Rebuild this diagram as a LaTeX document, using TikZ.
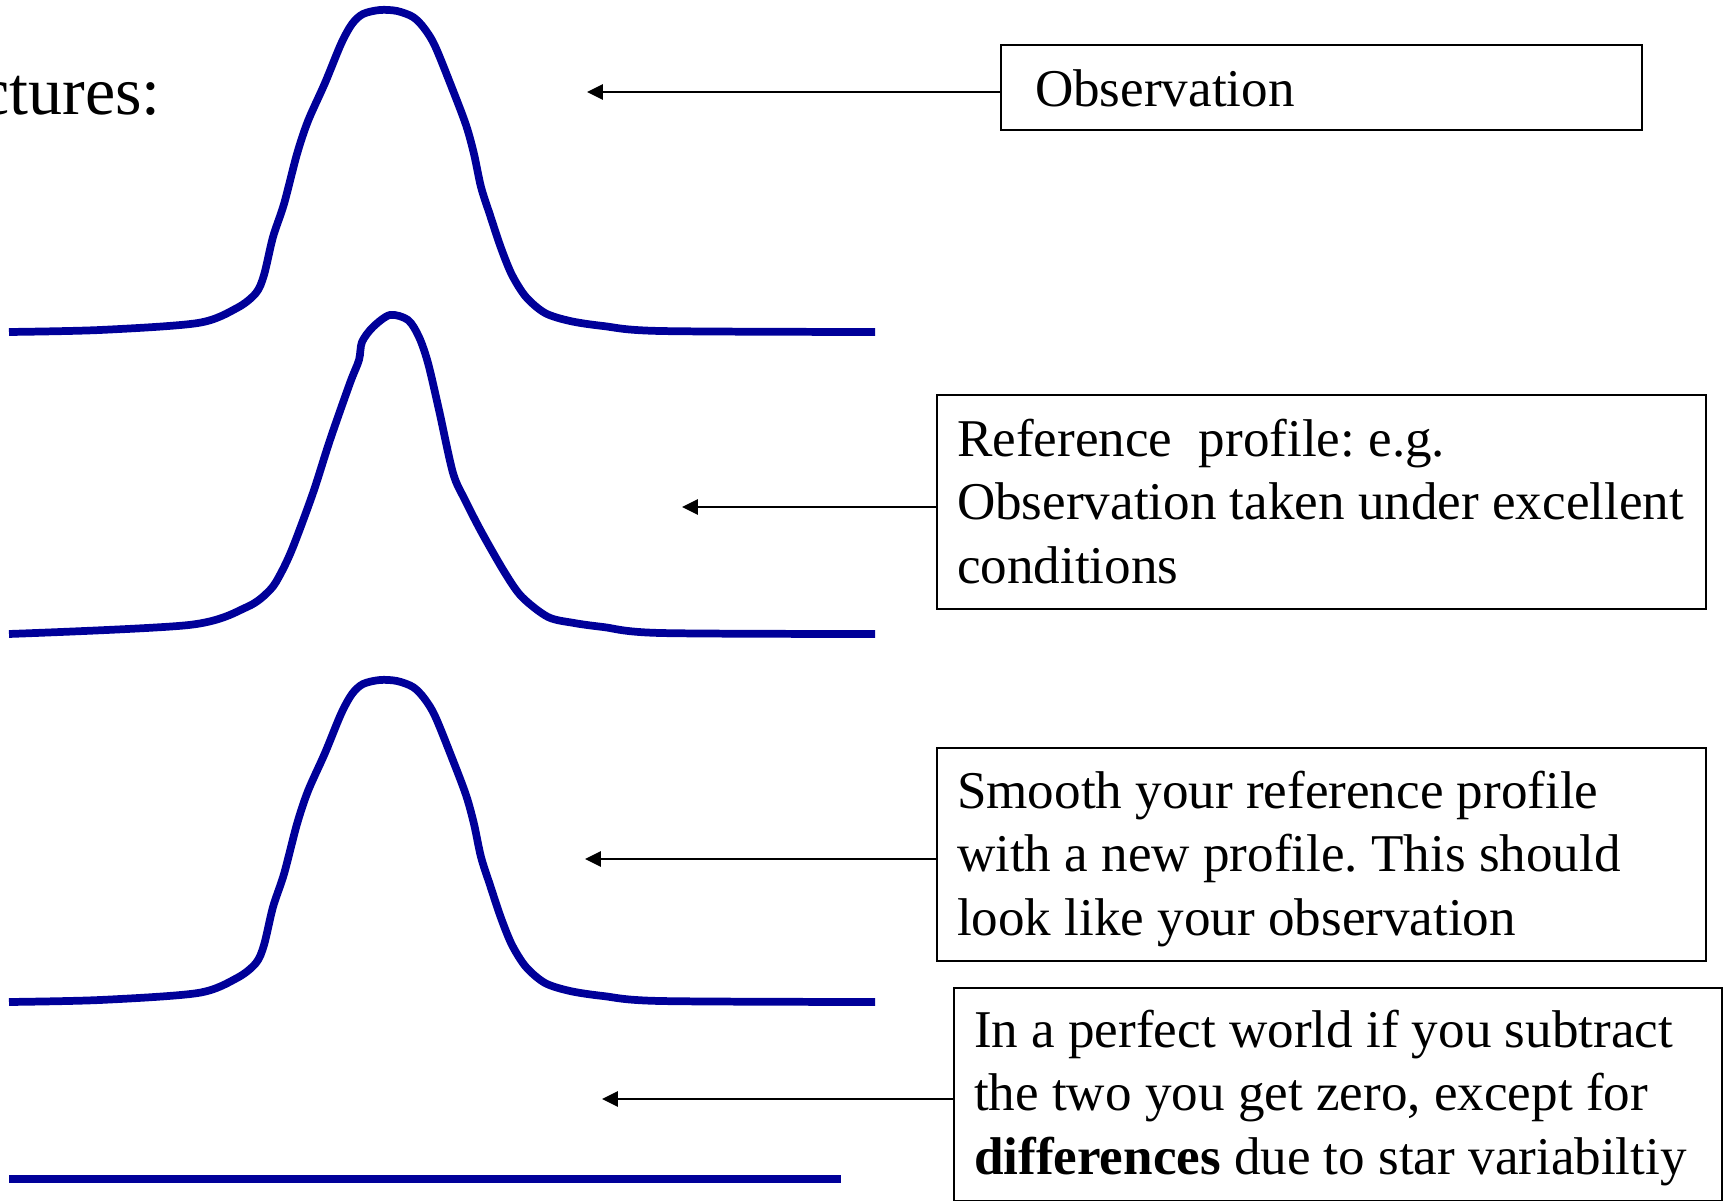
\documentclass[tikz,border=0pt]{standalone}
\usepackage{fontspec}
\setmainfont{Liberation Serif}
\usetikzlibrary{arrows.meta}
\definecolor{profblue}{RGB}{0,0,153}
\newlength{\pxu}\setlength{\pxu}{0.01cm}

\begin{document}
\begin{tikzpicture}[x=0.01cm, y=-0.01cm, >={Triangle[length=4.5pt, width=4.3pt]},
    every node/.style={font=\fontsize{15.1}{18.07}\selectfont\frenchspacing},
    profile/.style={line width=2.2pt, profblue, line join=round},
    note/.style={draw, line width=0.6pt, anchor=north west, inner ysep=0pt, inner xsep=20\pxu, align=flush left},
    pointer/.style={->, line width=0.6pt}]
    \useasboundingbox (0,0) rectangle (1727,1201);
    \node[anchor=base east, font=\fontsize{19.35}{23}\selectfont] (title) at (173,115) {ctures:};
    \foreach \dy in {0,670}
        \draw[profile, shift={(0,\dy)}] plot[smooth] coordinates {(9,332) (100,330) (198,323) (237,308) (256,293) (264,275) (273,237) (284,204) (297,154) (308,121) (325,83) (341,44) (352,24) (363,14) (380,10) (397,11) (413,17) (424,28) (435,46) (452,88) (466,125) (474,154) (481,187) (490,215) (501,248) (512,275) (526,297) (545,313) (570,321) (603,326) (660,331) (875,332)};
    \draw[profile] plot[smooth] coordinates {(9,634) (189,625) (247,607) (270,590) (281,573) (293,547) (313,493) (330,440) (350,383) (359,360) (362,342) (373,327) (390,315) (408,320) (419,337) (428,363) (439,410) (453,473) (465,500) (482,533) (505,573) (522,597) (548,617) (574,623) (603,627) (660,633) (875,634)};
    \draw[profile] (9,1179) -- (841,1179);
    \node[note, text width=573\pxu, inner xsep=34\pxu, text height=61\pxu, text depth=24\pxu] (obsbox) at (1000,44) {Observation};
    \node[note, text width=729\pxu, text height=61\pxu, text depth=153\pxu] (refbox) at (936,394) {Reference\ \ profile: e.g.\\Observation taken under excellent\\conditions};
    \node[note, text width=729\pxu, text height=60\pxu, text depth=153\pxu] (smoothbox) at (936,747) {Smooth your reference profile\\with a new profile. This should\\look like your observation};
    \node[note, text width=728\pxu, text height=59\pxu, text depth=154\pxu] (diffbox) at (953,987) {In a perfect world if you subtract\\the two you get zero, except for\\\textbf{differences} due to star variabiltiy};
    \coordinate (t1) at (587,92);
    \coordinate (t2) at (682,507);
    \coordinate (t3) at (585,859);
    \coordinate (t4) at (602,1099);
    \draw[pointer] (obsbox.west |- t1) -- (t1);
    \draw[pointer] (refbox.west |- t2) -- (t2);
    \draw[pointer] (smoothbox.west |- t3) -- (t3);
    \draw[pointer] (diffbox.west |- t4) -- (t4);
\end{tikzpicture}
\end{document}
